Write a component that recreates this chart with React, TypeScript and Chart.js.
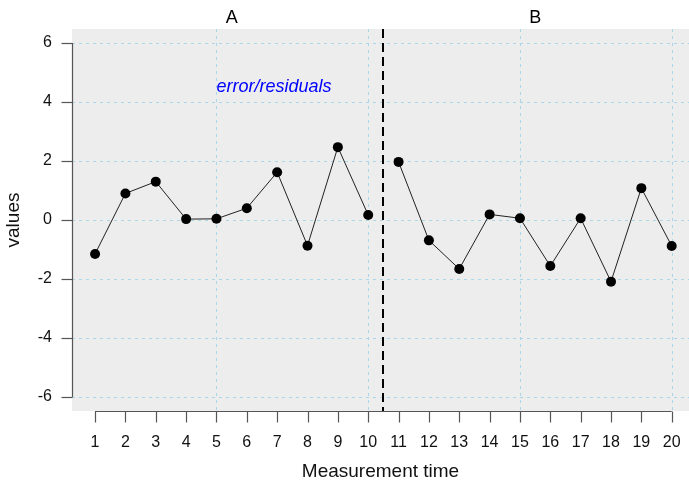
import React, { useEffect, useRef } from "react";
import { Chart, registerables } from "chart.js";

Chart.register(...registerables);

const timesA = [1, 2, 3, 4, 5, 6, 7, 8, 9, 10];
const valuesA = [-1.15, 0.9, 1.3, 0.03, 0.04, 0.4, 1.62, -0.87, 2.47, 0.17];
const timesB = [11, 12, 13, 14, 15, 16, 17, 18, 19, 20];
const valuesB = [1.97, -0.69, -1.66, 0.19, 0.06, -1.56, 0.06, -2.09, 1.08, -0.88];
const xTicks = [1, 2, 3, 4, 5, 6, 7, 8, 9, 10, 11, 12, 13, 14, 15, 16, 17, 18, 19, 20];
const xGridAt = [5, 10, 15, 20];
const yTicks = [-6, -4, -2, 0, 2, 4, 6];
const phaseLabels = ["A", "B"];
const phaseLabelX = [5.5, 15.5];
const phaseChange = 10.5;
const noteText = "error/residuals";
const noteX = 5;
const noteY = 4.5;

const FONT = "'Liberation Sans', Arial, Helvetica, sans-serif";

const decorPlugin = {
  id: "decor",
  beforeDraw(chart: any) {
    const { ctx, chartArea } = chart;
    ctx.save();
    ctx.fillStyle = "#ededed";
    ctx.fillRect(chartArea.left, chartArea.top, chartArea.right - chartArea.left, chartArea.bottom - chartArea.top);
    ctx.restore();
  },
  beforeDatasetsDraw(chart: any) {
    const { ctx, chartArea } = chart;
    const xs = chart.scales.x;
    const ys = chart.scales.y;
    ctx.save();
    // grid
    ctx.strokeStyle = "#a9d6e8";
    ctx.lineWidth = 1;
    ctx.setLineDash([3, 4]);
    for (const v of yTicks) {
      const py = Math.round(ys.getPixelForValue(v)) + 0.5;
      ctx.beginPath();
      ctx.moveTo(chartArea.left, py);
      ctx.lineTo(chartArea.right, py);
      ctx.stroke();
    }
    for (const v of xGridAt) {
      const px = Math.round(xs.getPixelForValue(v)) + 0.5;
      ctx.beginPath();
      ctx.moveTo(px, chartArea.top);
      ctx.lineTo(px, chartArea.bottom);
      ctx.stroke();
    }
    // axes
    ctx.setLineDash([]);
    ctx.strokeStyle = "#555";
    ctx.lineWidth = 1.2;
    const ax = chartArea.left + 0.5;
    ctx.beginPath();
    ctx.moveTo(ax, ys.getPixelForValue(yTicks[0]));
    ctx.lineTo(ax, ys.getPixelForValue(yTicks[yTicks.length - 1]));
    ctx.stroke();
    for (const v of yTicks) {
      const py = Math.round(ys.getPixelForValue(v)) + 0.5;
      ctx.beginPath();
      ctx.moveTo(ax, py);
      ctx.lineTo(ax - 11, py);
      ctx.stroke();
    }
    const ay = chartArea.bottom + 0.5;
    ctx.beginPath();
    ctx.moveTo(xs.getPixelForValue(xTicks[0]), ay);
    ctx.lineTo(xs.getPixelForValue(xTicks[xTicks.length - 1]), ay);
    ctx.stroke();
    for (const v of xTicks) {
      const px = Math.round(xs.getPixelForValue(v)) + 0.5;
      ctx.beginPath();
      ctx.moveTo(px, ay);
      ctx.lineTo(px, ay + 11);
      ctx.stroke();
    }
    // phase change line
    ctx.strokeStyle = "#000";
    ctx.lineWidth = 2;
    ctx.setLineDash([9, 5]);
    const pc = Math.round(xs.getPixelForValue(phaseChange));
    ctx.beginPath();
    ctx.moveTo(pc, chartArea.top);
    ctx.lineTo(pc, chartArea.bottom);
    ctx.stroke();
    ctx.restore();
  },
  afterDraw(chart: any) {
    const { ctx, chartArea } = chart;
    const xs = chart.scales.x;
    const ys = chart.scales.y;
    ctx.save();
    ctx.fillStyle = "#000";
    ctx.font = `18px ${FONT}`;
    ctx.textAlign = "center";
    ctx.textBaseline = "middle";
    phaseLabels.forEach((t, i) => {
      ctx.fillText(t, xs.getPixelForValue(phaseLabelX[i]), chartArea.top - 11);
    });
    ctx.fillStyle = "#0000ff";
    ctx.font = `italic 18px ${FONT}`;
    ctx.textAlign = "left";
    ctx.fillText(noteText, xs.getPixelForValue(noteX), ys.getPixelForValue(noteY));
    ctx.restore();
  },
};

export default function App() {
  const ref = useRef<HTMLCanvasElement>(null);
  useEffect(() => {
    if (!ref.current) return;
    const lineStyle = {
      borderColor: "#222",
      borderWidth: 1,
      pointRadius: 5,
      pointBackgroundColor: "#000",
      pointBorderColor: "#000",
      pointBorderWidth: 0,
      showLine: true,
      tension: 0,
    };
    const chart = new Chart(ref.current, {
      type: "scatter",
      data: {
        datasets: [
          { label: "A", data: timesA.map((t, i) => ({ x: t, y: valuesA[i] })), ...lineStyle },
          { label: "B", data: timesB.map((t, i) => ({ x: t, y: valuesB[i] })), ...lineStyle },
        ],
      },
      options: {
        animation: false,
        responsive: false,
        devicePixelRatio: 1,
        layout: { autoPadding: false, padding: { top: 29, left: 0, right: 0, bottom: 0 } },
        plugins: { legend: { display: false }, tooltip: { enabled: false } },
        scales: {
          x: {
            type: "linear",
            min: 0.24,
            max: 20.57,
            grid: { display: false },
            border: { display: false },
            afterBuildTicks: (s: any) => { s.ticks = xTicks.map((v) => ({ value: v })); },
            afterFit: (s: any) => { s.height = 73; s.paddingLeft = 0; s.paddingRight = 0; },
            ticks: {
              autoSkip: false,
              maxRotation: 0,
              padding: 14,
              color: "#111",
              font: { family: FONT, size: 16 },
              callback: (v: any) => String(v),
            },
            title: {
              display: true,
              text: "Measurement time",
              color: "#111",
              font: { family: FONT, size: 19 },
              padding: { top: 0, bottom: 1 },
            },
          },
          y: {
            type: "linear",
            min: -6.475,
            max: 6.475,
            grid: { display: false },
            border: { display: false },
            afterBuildTicks: (s: any) => { s.ticks = yTicks.map((v) => ({ value: v })); },
            afterFit: (s: any) => { s.width = 72; s.paddingTop = 0; s.paddingBottom = 0; },
            ticks: {
              padding: 12,
              color: "#111",
              font: { family: FONT, size: 16 },
              callback: (v: any) => String(v),
            },
            title: {
              display: true,
              text: "values",
              color: "#111",
              font: { family: FONT, size: 19 },
              padding: { top: 2, bottom: 0 },
            },
          },
        },
      },
      plugins: [decorPlugin],
    });
    return () => chart.destroy();
  }, []);
  return (
    <div style={{ position: "absolute", left: 0, top: 0, width: 689, height: 484 }}>
      <canvas ref={ref} width={689} height={484} />
    </div>
  );
}
